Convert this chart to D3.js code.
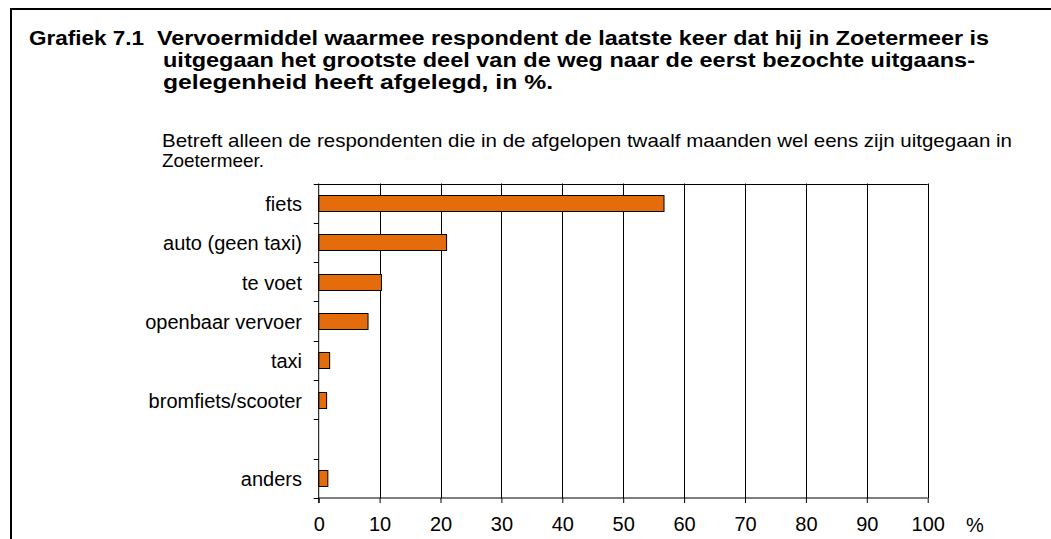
<!DOCTYPE html>
<html>
<head>
<meta charset="utf-8">
<script src="https://cdn.jsdelivr.net/npm/d3@7"></script>
<style>
  html, body { margin: 0; padding: 0; background: #fff; }
  svg { display: block; font-family: "Liberation Sans", Arial, sans-serif; }
</style>
</head>
<body>
<svg id="chart" width="1051" height="539"></svg>
<script>
// ---- data ----
const categories = ["fiets", "auto (geen taxi)", "te voet", "openbaar vervoer", "taxi", "bromfiets/scooter", "", "anders"];
const values = [56.7, 21.0, 10.3, 8.1, 1.8, 1.3, null, 1.5];
const xTicks = [0, 10, 20, 30, 40, 50, 60, 70, 80, 90, 100];
const titleNumber = "Grafiek 7.1";
const titleLines = [
  "Vervoermiddel waarmee respondent de laatste keer dat hij in Zoetermeer is",
  "uitgegaan het grootste  deel van de weg naar de eerst bezochte uitgaans-",
  "gelegenheid heeft afgelegd, in %."
];
const subtitleLines = [
  "Betreft alleen de respondenten die in de afgelopen twaalf maanden wel eens zijn uitgegaan in",
  "Zoetermeer."
];
const unitLabel = "%";

// ---- layout ----
const svg = d3.select("#chart");
const plot = { left: 318.7, right: 927.7, top: 183.5, bottom: 498 };
const barColor = "#E46C0A";

// frame
svg.append("rect")
  .attr("x", 11).attr("y", 9)
  .attr("width", 1100).attr("height", 600)
  .attr("fill", "none").attr("stroke", "#000").attr("stroke-width", 2);

// title
const titleG = svg.append("g").attr("font-weight", "bold").attr("font-size", 21).attr("fill", "#000");
titleG.append("text").attr("x", 29).attr("y", 45).text(titleNumber)
  .attr("textLength", 115).attr("lengthAdjust", "spacingAndGlyphs");
const titleX = [157, 163, 163];
const titleW = [832, 812, 390];
titleLines.forEach((t, i) => {
  titleG.append("text").attr("x", titleX[i]).attr("y", 45 + i * 22).text(t)
    .attr("textLength", titleW[i]).attr("lengthAdjust", "spacingAndGlyphs");
});

// subtitle
const subG = svg.append("g").attr("font-size", 19).attr("fill", "#000");
const subW = [850, 102];
subtitleLines.forEach((t, i) => {
  subG.append("text").attr("x", 162).attr("y", 147 + i * 20).text(t)
    .attr("textLength", subW[i]).attr("lengthAdjust", "spacingAndGlyphs");
});

// scales
const x = d3.scaleLinear().domain([0, 100]).range([plot.left, plot.right]);
const y = d3.scaleBand().domain(categories.map((c, i) => i)).range([plot.top, plot.bottom]).paddingInner(0).paddingOuter(0);

// grid lines
svg.append("g").selectAll("line").data(xTicks.filter(d => d > 0)).join("line")
  .attr("x1", d => Math.round(x(d)) + 0.5).attr("x2", d => Math.round(x(d)) + 0.5)
  .attr("y1", plot.top).attr("y2", plot.bottom)
  .attr("stroke", "#000").attr("stroke-width", 1);

// top border
svg.append("line")
  .attr("x1", plot.left).attr("x2", plot.right)
  .attr("y1", Math.round(plot.top) + 0.5).attr("y2", Math.round(plot.top) + 0.5)
  .attr("stroke", "#000").attr("stroke-width", 1);

// bars
const bh = 16;
svg.append("g").selectAll("rect").data(values.map((v, i) => ({ v, i })).filter(d => d.v != null)).join("rect")
  .attr("x", x(0))
  .attr("y", d => Math.round(y(d.i) + y.bandwidth() / 2 - bh / 2) + 0.5)
  .attr("width", d => x(d.v) - x(0))
  .attr("height", bh)
  .attr("fill", barColor)
  .attr("stroke", "#000").attr("stroke-width", 1);

// x axis
const xAxis = d3.axisBottom(x).tickValues(xTicks).tickSize(5).tickPadding(13).tickFormat(d3.format("d"));
const xg = svg.append("g").attr("transform", `translate(0,${plot.bottom})`).call(xAxis);
xg.select(".domain").attr("stroke", "#000").attr("d", `M${plot.left},0H${plot.right}`);
xg.selectAll(".tick line").attr("stroke", "#000");
xg.selectAll(".tick text").attr("font-size", 20).attr("font-family", "Liberation Sans, Arial, sans-serif").attr("fill", "#000").attr("dy", "0.75em");
svg.append("text").attr("x", 975).attr("y", 532).attr("text-anchor", "middle")
  .attr("font-size", 20).attr("fill", "#000").text(unitLabel);

// y axis (boundary ticks)
const boundaries = categories.map((c, i) => y(i)).concat([plot.bottom]);
svg.append("line").attr("x1", plot.left).attr("x2", plot.left)
  .attr("y1", plot.top).attr("y2", plot.bottom + 5).attr("stroke", "#000");
svg.append("g").selectAll("line").data(boundaries).join("line")
  .attr("x1", plot.left - 5).attr("x2", plot.left)
  .attr("y1", d => Math.round(d) + 0.5).attr("y2", d => Math.round(d) + 0.5)
  .attr("stroke", "#000");

// category labels
svg.append("g").selectAll("text").data(categories.map((c, i) => ({ c, i }))).join("text")
  .attr("x", 302)
  .attr("y", d => y(d.i) + y.bandwidth() / 2 + 8)
  .attr("text-anchor", "end")
  .attr("font-size", 20)
  .attr("fill", "#000")
  .text(d => d.c);
</script>
</body>
</html>
